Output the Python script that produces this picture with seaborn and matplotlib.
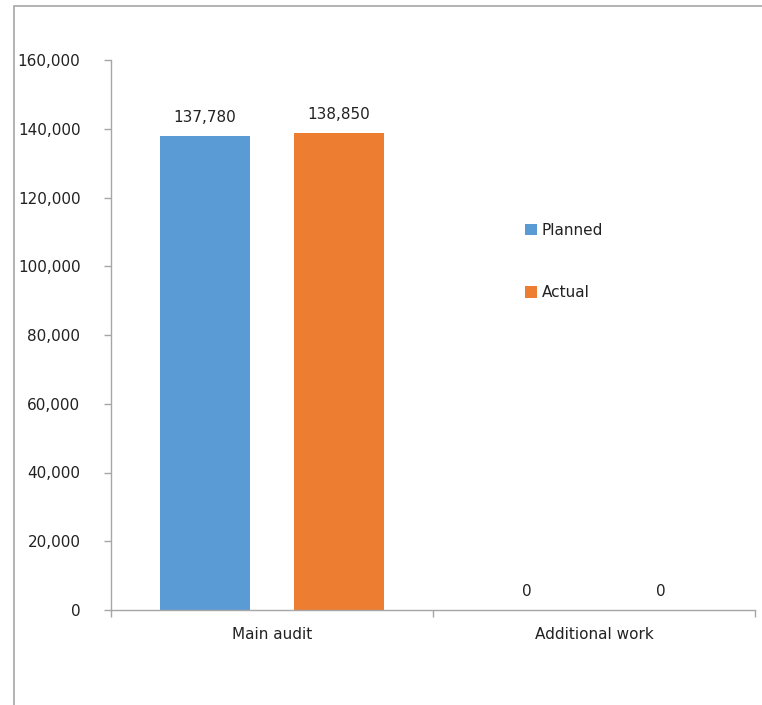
import matplotlib
matplotlib.use("Agg")
import matplotlib.pyplot as plt
import seaborn as sns
import pandas as pd
from matplotlib.patches import Patch, Rectangle
from matplotlib.ticker import FuncFormatter, FixedLocator

categories = ["Main audit", "Additional work"]
series_names = ["Planned", "Actual"]
planned = [137780, 0]
actual = [138850, 0]
colors = ["#5B9BD5", "#ED7D31"]
yticks = [0, 20000, 40000, 60000, 80000, 100000, 120000, 140000, 160000]

df = pd.DataFrame({
    "category": categories * 2,
    "series": [series_names[0]] * 2 + [series_names[1]] * 2,
    "value": planned + actual,
})

sns.set_theme(style="white")
plt.rcParams["font.family"] = ["DejaVu Sans"]
FS = 11

fig = plt.figure(figsize=(7.62, 7.05), dpi=100)
ax = fig.add_axes([111 / 762, 1 - 610 / 705, (755 - 111) / 762, (610 - 60) / 705])

sns.barplot(data=df, x="category", y="value", hue="series", order=categories,
            hue_order=series_names, palette=colors, width=0.83, gap=0.325,
            ax=ax, legend=False, saturation=1, linewidth=0, edgecolor="none")

for cont in ax.containers:
    ax.bar_label(cont, labels=[f"{v:,.0f}" for v in cont.datavalues],
                 padding=8, fontsize=FS, color="#222222")

ax.set_ylim(0, 160000)
ax.set_xlim(-0.5, 1.5)
ax.set_yticks(yticks)
ax.yaxis.set_major_formatter(FuncFormatter(lambda v, p: f"{v:,.0f}"))
ax.set_xlabel("")
ax.set_ylabel("")
ax.xaxis.set_minor_locator(FixedLocator([-0.5, 0.5, 1.5]))
ax.tick_params(axis="x", which="major", length=0, pad=12, labelsize=FS, labelcolor="#222222")
ax.tick_params(axis="x", which="minor", length=5, width=1, color="#a6a6a6", direction="out", bottom=True)
ax.tick_params(axis="y", which="major", length=5, width=1, color="#a6a6a6", direction="out",
               left=True, pad=17, labelsize=FS, labelcolor="#222222")
for s in ["top", "right"]:
    ax.spines[s].set_visible(False)
for s in ["left", "bottom"]:
    ax.spines[s].set_color("#a6a6a6")
    ax.spines[s].set_linewidth(1)
ax.grid(False)

handles = [Patch(facecolor=c, edgecolor="none") for c in colors]
fig.legend(handles, series_names, loc="upper left", bbox_to_anchor=(511 / 762, 1 - 209 / 705),
           frameon=False, fontsize=FS, handlelength=0.8, handleheight=0.8,
           handletextpad=0.3, labelspacing=3.1, labelcolor="#222222")

# outer chart frame
fig.add_artist(Rectangle((14 / 762, -0.05), 1.0, 1 - 6 / 705 + 0.05, transform=fig.transFigure,
                         fill=False, edgecolor="#a6a6a6", linewidth=1.2, clip_on=False))

fig.savefig("out.png", dpi=100)
